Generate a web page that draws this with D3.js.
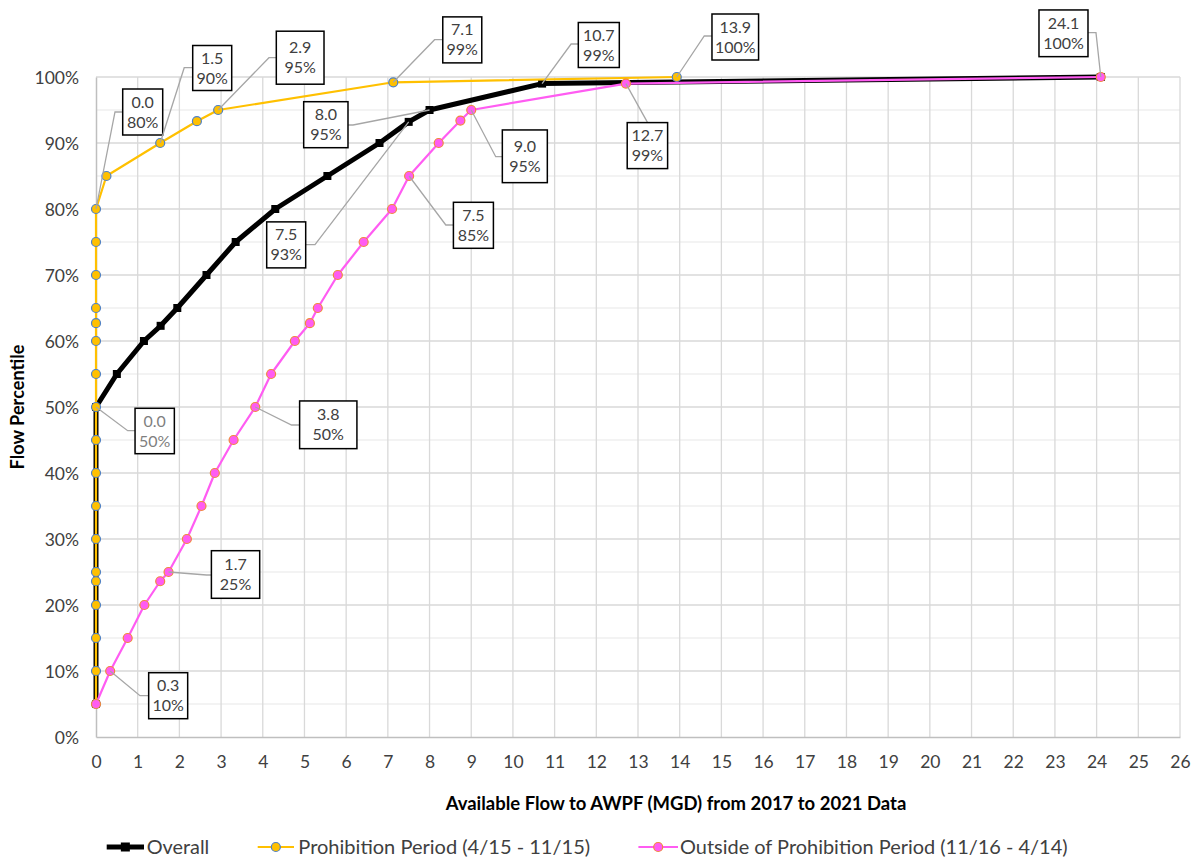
<!DOCTYPE html>
<html>
<head>
<meta charset="utf-8">
<script src="https://cdn.jsdelivr.net/npm/d3@7"></script>
<style>
  html, body { margin: 0; padding: 0; background: #fff; }
  svg { display: block; font-family: Lato, "Open Sans", sans-serif; }
</style>
</head>
<body>
<svg id="chart" width="1198" height="857"></svg>
<script>
// ---------------- DATA ----------------
const xTicks = d3.range(0, 27, 1);
const yTicks = d3.range(0, 101, 10);
const yMinor = d3.range(5, 100, 10);

const seriesNames = ["Overall", "Prohibition Period (4/15 - 11/15)", "Outside of Prohibition Period (11/16 - 4/14)"];

const overallX = [0, 0, 0.5, 1.15, 1.55, 1.95, 2.65, 3.35, 4.3, 5.55, 6.8, 7.5, 8.0, 10.7, 24.1];
const overallY = [5, 50, 55, 60, 62.3, 65, 70, 75, 80, 85, 90, 93.2, 95, 99, 100];

const prohibX = [0, 0, 0, 0, 0, 0, 0, 0, 0, 0, 0, 0, 0, 0, 0, 0, 0, 0, 0.25, 1.54, 2.42, 2.93, 7.13, 13.93];
const prohibY = [5, 10, 15, 20, 23.6, 25, 30, 35, 40, 45, 50, 55, 60, 62.7, 65, 70, 75, 80, 85, 90, 93.3, 95, 99.2, 100];

const outsideX = [0, 0.34, 0.76, 1.16, 1.54, 1.74, 2.18, 2.53, 2.85, 3.30, 3.82, 4.2, 4.77, 5.13, 5.32, 5.80, 6.42, 7.10, 7.51, 8.22, 8.74, 9.0, 12.71, 24.1];
const outsideY = [5, 10, 15, 20, 23.6, 25, 30, 35, 40, 45, 50, 55, 60, 62.7, 65, 70, 75, 80, 85, 90, 93.4, 95, 99, 100];

// callouts: series index, point index in that series
const calloutSeries = [1, 1, 1, 1, 0, 1, 2, 0, 0, 2, 2, 2, 0, 2, 2, 2];
const calloutIndex  = [17, 19, 21, 22, 13, 23, 23, 12, 11, 21, 18, 22, 1, 10, 5, 1];

// ---------------- LAYOUT (pixel offsets of callout boxes relative to their point) ----------------
// [box centre dx, box centre dy, box w, box h, elbow dx, elbow dy, grey text]
const calloutLayout = [
  [46.7, -97, 40, 46, 19, -97, false],     // 0.0 80%
  [52, -75, 39, 45, 24, -75.3, false],     // 1.5 90%
  [82, -52.3, 47.7, 53, 50.8, -52.3, false], // 2.9 95%
  [69, -42.4, 39, 46, 41.3, -42.6, false], // 7.1 99%
  [56.7, -38.6, 41, 45, 29, -39.6, false], // 10.7 99%
  [58.5, -40, 46.6, 46, 27.5, -41, false], // 13.9 100%
  [-37.3, -43.7, 49, 46.7, -4.8, -44.3, false], // 24.1 100%
  [-103.7, 14.7, 44.3, 46, -76.5, 15, false], // 8.0 95%
  [-122.5, 123, 39, 46, -93.7, 122.8, false], // 7.5 93%
  [53.6, 46.3, 45, 52.7, 24.5, 46.7, false], // 9.0 95%
  [64.3, 49.3, 40, 46, 36.7, 49, false],   // 7.5 85%
  [21.5, 62, 40.4, 46, 21.7, 39, false],   // 12.7 99%
  [58.7, 24, 39.3, 45.4, 31.7, 23.7, true], // 0.0 50%
  [73, 17.8, 57.3, 47.7, 36.3, 18, false], // 3.8 50%
  [67, 2.5, 48.3, 47.6, 38, 3, false],     // 1.7 25%
  [58, 24.7, 39, 46, 29.8, 24.7, false]    // 0.3 10%
];

// ---------------- CHART ----------------
const W = 1198, H = 857;
const L = 96, R = 1180, T = 77, B = 737;
const svg = d3.select("#chart");
svg.append("rect").attr("width", W).attr("height", H).attr("fill", "#fff");

const x = d3.scaleLinear().domain([0, 26]).range([L, R]);
const y = d3.scaleLinear().domain([0, 100]).range([B, T]);

// gridlines
const grid = svg.append("g");
grid.selectAll("line.hmin").data(yMinor).join("line")
  .attr("x1", L).attr("x2", R).attr("y1", d => y(d)).attr("y2", d => y(d))
  .attr("stroke", "#efefef").attr("stroke-width", 1.3);
grid.selectAll("line.hmaj").data(yTicks.filter(d => d > 0)).join("line")
  .attr("x1", L).attr("x2", R).attr("y1", d => y(d)).attr("y2", d => y(d))
  .attr("stroke", "#d9d9d9").attr("stroke-width", 1.3);
grid.selectAll("line.v").data(xTicks.filter(d => d > 0)).join("line")
  .attr("x1", d => x(d)).attr("x2", d => x(d)).attr("y1", T).attr("y2", B)
  .attr("stroke", "#d9d9d9").attr("stroke-width", 1.3);

// axes
const xAxis = svg.append("g").attr("transform", `translate(0,${B})`)
  .call(d3.axisBottom(x).tickValues(xTicks).tickFormat(d3.format("d")).tickSize(0).tickPadding(19));
const yAxis = svg.append("g").attr("transform", `translate(${L},0)`)
  .call(d3.axisLeft(y).tickValues(yTicks).tickFormat(d => d + "%").tickSize(0).tickPadding(17));
[xAxis, yAxis].forEach(a => {
  a.select(".domain").attr("stroke", "#bfbfbf").attr("stroke-width", 1.5);
  a.selectAll("text").attr("font-family", "Lato, sans-serif").attr("font-size", 17.5).attr("fill", "#404040");
});
yAxis.selectAll("text").attr("dy", "0.36em");

// axis titles
function fit(sel, target) {
  const n = sel.node();
  const w = n.getComputedTextLength();
  const fs = parseFloat(sel.attr("font-size"));
  sel.attr("font-size", (fs * target / w).toFixed(2));
}
const xt = svg.append("text").attr("x", 676).attr("y", 810).attr("text-anchor", "middle")
  .attr("font-weight", "bold").attr("font-size", 16).attr("fill", "#000")
  .text("Available Flow to AWPF (MGD) from 2017 to 2021 Data");
fit(xt, 461);
const yt = svg.append("text").attr("transform", "translate(24,407) rotate(-90)").attr("text-anchor", "middle")
  .attr("font-weight", "bold").attr("font-size", 16).attr("fill", "#000")
  .text("Flow Percentile");
fit(yt, 125);

// series
const series = [
  { pts: overallX.map((v, i) => [v, overallY[i]]), color: "#000", width: 5, marker: "square", mfill: "#000", mstroke: "#000" },
  { pts: prohibX.map((v, i) => [v, prohibY[i]]), color: "#ffc000", width: 2.2, marker: "circle", mfill: "#ffc000", mstroke: "#4f81c7" },
  { pts: outsideX.map((v, i) => [v, outsideY[i]]), color: "#ff5cf2", width: 2.2, marker: "circle", mfill: "#ff5cf2", mstroke: "#f08a3c" }
];
const line = d3.line().x(d => x(d[0])).y(d => y(d[1]));
series.forEach(s => {
  const g = svg.append("g");
  g.append("path").datum(s.pts).attr("d", line).attr("fill", "none")
    .attr("stroke", s.color).attr("stroke-width", s.width).attr("stroke-linejoin", "round");
  if (s.marker === "square") {
    g.selectAll("rect").data(s.pts).join("rect")
      .attr("x", d => x(d[0]) - 4).attr("y", d => y(d[1]) - 4)
      .attr("width", 8).attr("height", 8).attr("fill", s.mfill);
  } else {
    g.selectAll("circle").data(s.pts).join("circle")
      .attr("cx", d => x(d[0])).attr("cy", d => y(d[1])).attr("r", 4.5)
      .attr("fill", s.mfill).attr("stroke", s.mstroke).attr("stroke-width", 1.2);
  }
});

// callouts
const cg = svg.append("g");
calloutSeries.forEach((si, k) => {
  const p = series[si].pts[calloutIndex[k]];
  const px = x(p[0]), py = y(p[1]);
  const [dx, dy, bw, bh, ex, ey, grey] = calloutLayout[k];
  const cx = px + dx, cy = py + dy;
  const exA = px + ex, eyA = py + ey;
  let endX, endY;
  if (Math.abs(eyA - cy) < bh / 2 - 1 && Math.abs(exA - cx) >= bw / 2 - 0.5) {
    endX = exA < cx ? cx - bw / 2 : cx + bw / 2; endY = eyA;
  } else {
    endX = exA; endY = eyA < cy ? cy - bh / 2 : cy + bh / 2;
  }
  cg.append("polyline")
    .attr("points", [[px, py], [exA, eyA], [endX, endY]].map(q => q.join(",")).join(" "))
    .attr("fill", "none").attr("stroke", "#a6a6a6").attr("stroke-width", 1.3);
  cg.append("rect").attr("x", cx - bw / 2).attr("y", cy - bh / 2).attr("width", bw).attr("height", bh)
    .attr("fill", "#fff").attr("stroke", "#000").attr("stroke-width", 1.5);
  const t = cg.append("text").attr("text-anchor", "middle").attr("font-size", 16)
    .attr("fill", grey ? "#7f7f7f" : "#404040");
  t.append("tspan").attr("x", cx).attr("y", cy - 4.5).text(p[0].toFixed(1));
  t.append("tspan").attr("x", cx).attr("y", cy + 15.5).text(Math.round(p[1]) + "%");
});

// legend
const legendLineX = [[106.7, 144], [257.7, 294], [638.4, 678]];
const legendTextX = [146.7, 298.3, 680];
const legendTextW = [62.6, 292, 387.5];
const ly = 847;
series.forEach((s, i) => {
  const g = svg.append("g");
  const [a, b] = legendLineX[i];
  g.append("line").attr("x1", a).attr("x2", b).attr("y1", ly).attr("y2", ly)
    .attr("stroke", s.color).attr("stroke-width", i === 0 ? 5 : 2.2);
  const m = (a + b) / 2;
  if (s.marker === "square") {
    g.append("rect").attr("x", m - 4.5).attr("y", ly - 4.5).attr("width", 9).attr("height", 9).attr("fill", "#000");
  } else {
    g.append("circle").attr("cx", m).attr("cy", ly).attr("r", 4.5)
      .attr("fill", s.mfill).attr("stroke", s.mstroke).attr("stroke-width", 1.2);
  }
  const t = g.append("text").attr("x", legendTextX[i]).attr("y", ly + 6.5).attr("font-size", 17)
    .attr("fill", "#404040").text(seriesNames[i]);
  fit(t, legendTextW[i]);
});
</script>
</body>
</html>
